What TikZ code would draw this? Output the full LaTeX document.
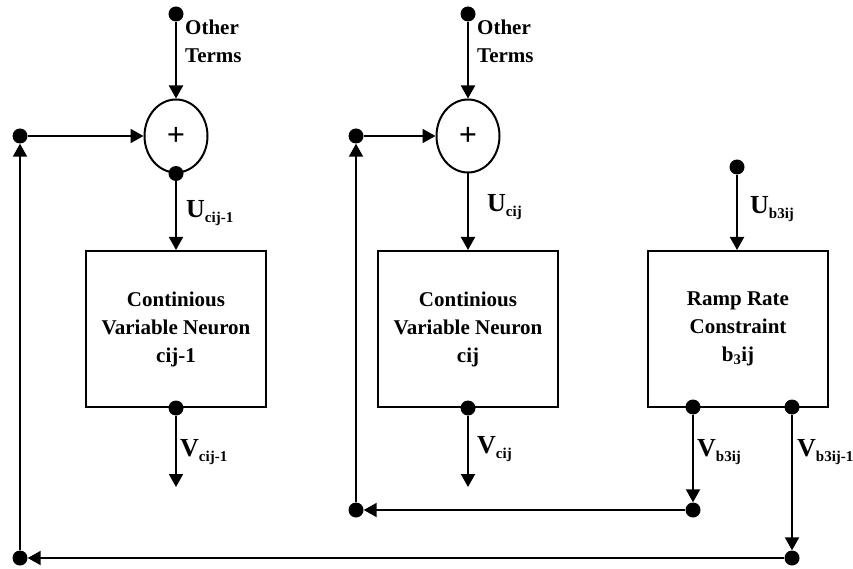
\documentclass[tikz,border=0pt]{standalone}
\usepackage{fontspec}
\setmainfont{Liberation Serif}
\usetikzlibrary{arrows.meta,positioning,calc,shapes.geometric}

% signal name with a lowered index
\newcommand{\sig}[2]{{\fontsize{26}{26}\selectfont #1}\raisebox{-5pt}{\fontsize{15}{15}\selectfont #2}}

\begin{document}
\begin{tikzpicture}[x=1pt,y=-1pt,>={Triangle[length=13pt,width=14pt]},
 every node/.style={font=\bfseries},
 blk/.style={draw,line width=2pt,minimum width=180pt,minimum height=156pt,align=center,font=\bfseries\fontsize{21}{28}\selectfont},
 sum/.style={ellipse,draw,line width=2pt,minimum width=63pt,minimum height=73pt,inner sep=0pt,font=\bfseries\fontsize{32}{32}\selectfont},
 dot/.style={circle,fill,inner sep=0pt,minimum size=15pt},
 txt/.style={anchor=north west,inner sep=0pt,align=left,font=\bfseries\fontsize{21}{28}\selectfont},
 lbl/.style={anchor=base west,inner sep=0pt},
 arr/.style={->,line width=2pt}]
\useasboundingbox (0,0) rectangle (853,569);

% neurons
\node[blk] (b1) at (176,329) {Continious\\Variable Neuron\\cij-1};
\node[blk] (b2) at (468,329) {Continious\\Variable Neuron\\cij};
\node[blk] (b3) at (738,329) {Ramp Rate\\Constraint\\b\textsubscript{3}ij};

% summing junctions
\node[sum] (s1) at (176,136) {+};
\node[sum] (s2) at (468,136) {+};

% terminals and junction points
\node[dot] (t1) at (176,14) {};
\node[dot] (t2) at (468,14) {};
\node[dot] (t3) at (737,167) {};
\node[dot] (j1) at (s1.south) {};
\node[dot] (o1) at (b1.south) {};
\node[dot] (o2) at (b2.south) {};
\node[dot] (o3) at (693,407) {};
\node[dot] (o4) at (792,407) {};
\node[dot] (d3) at (693,510) {};
\node[dot] (d4) at (792,558) {};
\node[dot] (e1) at (20,558) {};
\node[dot] (e2) at (20,136) {};
\node[dot] (e3) at (356,510) {};
\node[dot] (e4) at (356,136) {};
\coordinate (v1) at (176,487);
\coordinate (v2) at (468,487);

% forward paths
\draw[arr] (t1) -- (s1.north);
\draw[arr] (j1) -- (b1.north);
\draw[arr] (t2) -- (s2.north);
\draw[arr] (s2.south) -- (b2.north);
\draw[arr] (t3) -- (t3 |- b3.north);
\draw[arr] (o1) -- (v1);
\draw[arr] (o2) -- (v2);

% feedback loops
\draw[arr] (o3) -- (d3);
\draw[arr] (d3) -- (e3);
\draw[arr] (e3) -- (e4);
\draw[arr] (e4) -- (s2.west);
\draw[arr] (o4) -- (d4);
\draw[arr] (d4) -- (e1);
\draw[arr] (e1) -- (e2);
\draw[arr] (e2) -- (s1.west);

% labels
\node[txt] (ot1) at (185,20) {Other\\Terms};
\node[txt] (ot2) at (477,20) {Other\\Terms};
\node[lbl] (u1) at (186,218) {\sig{U}{cij-1}};
\node[lbl] (u2) at (487,212) {\sig{U}{cij}};
\node[lbl] (u3) at (750,214) {\sig{U}{b3ij}};
\node[lbl] (w1) at (180,456) {\sig{V}{cij-1}};
\node[lbl] (w2) at (477,453) {\sig{V}{cij}};
\node[lbl] (w3) at (697,456) {\sig{V}{b3ij}};
\node[lbl] (w4) at (797,456) {\sig{V}{b3ij-1}};
\end{tikzpicture}
\end{document}
